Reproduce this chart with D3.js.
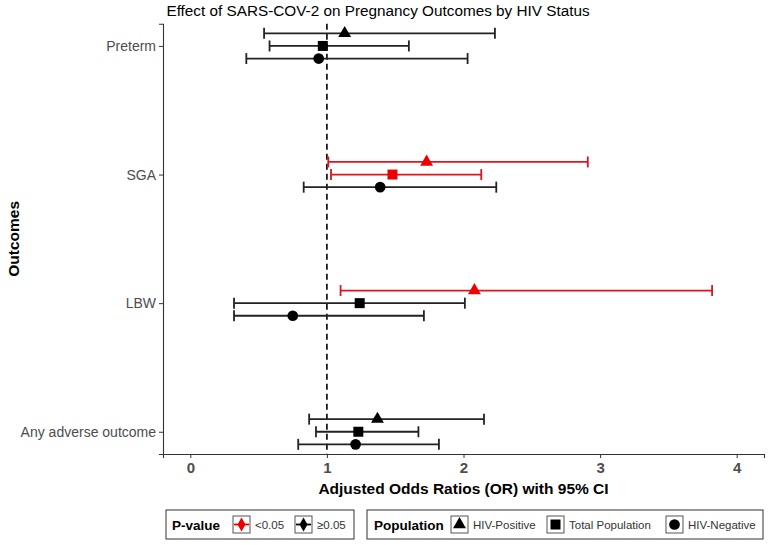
<!DOCTYPE html>
<html>
<head>
<meta charset="utf-8">
<script src="https://cdn.jsdelivr.net/npm/d3@7"></script>
<style>
  body { margin: 0; background: #fff; }
  svg { display: block; font-family: "Liberation Sans", Arial, sans-serif; }
</style>
</head>
<body>
<svg id="chart" width="768" height="545"></svg>
<script>
// outcomes, top to bottom
const outcomes = ["Preterm", "SGA", "LBW", "Any adverse outcome"];
const populations = ["HIV-Positive", "Total Population", "HIV-Negative"];

// adjusted odds ratios and 95% CI, one value per outcome
const hivPosOR = [1.13, 1.73, 2.08, 1.37];
const hivPosLo = [0.54, 1.01, 1.10, 0.87];
const hivPosHi = [2.23, 2.91, 3.82, 2.15];
const hivPosSig = [false, true, true, false];

const totalOR = [0.97, 1.48, 1.24, 1.23];
const totalLo = [0.58, 1.03, 0.32, 0.92];
const totalHi = [1.60, 2.13, 2.01, 1.67];
const totalSig = [false, true, false, false];

const hivNegOR = [0.94, 1.39, 0.75, 1.21];
const hivNegLo = [0.41, 0.83, 0.32, 0.79];
const hivNegHi = [2.03, 2.24, 1.71, 1.82];
const hivNegSig = [false, false, false, false];

const xTicks = [0, 1, 2, 3, 4];

const series = [
    { pop: populations[0], or: hivPosOR, lo: hivPosLo, hi: hivPosHi, sig: hivPosSig },
    { pop: populations[1], or: totalOR, lo: totalLo, hi: totalHi, sig: totalSig },
    { pop: populations[2], or: hivNegOR, lo: hivNegLo, hi: hivNegHi, sig: hivNegSig }
];

const rows = [];
series.forEach((s, si) => {
    outcomes.forEach((o, i) => {
        rows.push({ outcome: o, pop: s.pop, idx: si, or: s.or[i], lo: s.lo[i], hi: s.hi[i], sig: s.sig[i] });
    });
});

const svg = d3.select("#chart");
const pLeft = 163, pRight = 764, pTop = 23.7, pBottom = 454;

const x = d3.scaleLinear().domain([-0.2, 4.2]).range([pLeft, pRight]);
const y = d3.scalePoint().domain(outcomes).range([pTop, pBottom]).padding(0.173);
const dodge = y.step() * 0.098;

const red = "#ee0000";
const lineCol = (d) => d.sig ? "#e0141e" : "#222";
const fillCol = (d) => d.sig ? red : "#000";

const shapes = {
    "HIV-Positive": d3.symbol().type(d3.symbolTriangle).size(72),
    "Total Population": d3.symbol().type(d3.symbolSquare).size(100),
    "HIV-Negative": d3.symbol().type(d3.symbolCircle).size(90)
};

const yPos = (d) => y(d.outcome) + (d.idx - 1) * dodge;

// title
svg.append("text")
    .attr("x", 378).attr("y", 16)
    .attr("text-anchor", "middle")
    .attr("font-size", 15.3)
    .attr("fill", "#000")
    .text("Effect of SARS-COV-2 on Pregnancy Outcomes by HIV Status");

// reference line at OR = 1
svg.append("line")
    .attr("x1", x(1)).attr("x2", x(1))
    .attr("y1", pTop).attr("y2", pBottom)
    .attr("stroke", "#000")
    .attr("stroke-width", 1.6)
    .attr("stroke-dasharray", "6,4");

// error bars
const bars = svg.append("g").selectAll("g").data(rows).enter().append("g");
bars.append("line")
    .attr("x1", (d) => x(d.lo)).attr("x2", (d) => x(d.hi))
    .attr("y1", yPos).attr("y2", yPos)
    .attr("stroke", lineCol).attr("stroke-width", 1.8);
bars.append("line")
    .attr("x1", (d) => x(d.lo)).attr("x2", (d) => x(d.lo))
    .attr("y1", (d) => yPos(d) - 5.5).attr("y2", (d) => yPos(d) + 5.5)
    .attr("stroke", lineCol).attr("stroke-width", 1.8);
bars.append("line")
    .attr("x1", (d) => x(d.hi)).attr("x2", (d) => x(d.hi))
    .attr("y1", (d) => yPos(d) - 5.5).attr("y2", (d) => yPos(d) + 5.5)
    .attr("stroke", lineCol).attr("stroke-width", 1.8);

// points
svg.append("g").selectAll("path").data(rows).enter().append("path")
    .attr("d", (d) => shapes[d.pop]())
    .attr("transform", (d) => "translate(" + x(d.or) + "," + yPos(d) + ")")
    .attr("fill", fillCol);

// axes
const xAxis = svg.append("g")
    .attr("transform", "translate(0," + pBottom + ")")
    .call(d3.axisBottom(x).tickValues(xTicks).tickSize(4).tickPadding(4).tickFormat(d3.format("d")));
xAxis.select(".domain").attr("stroke", "#333").attr("stroke-width", 1.1);
xAxis.selectAll(".tick line").attr("stroke", "#333");
xAxis.selectAll(".tick text").attr("font-size", 15).attr("font-weight", "bold").attr("fill", "#4d4d4d")
    .attr("font-family", "Liberation Sans, Arial, sans-serif");

const yAxis = svg.append("g")
    .attr("transform", "translate(" + pLeft + ",0)")
    .call(d3.axisLeft(y).tickSize(4).tickPadding(3));
yAxis.select(".domain").attr("stroke", "#333").attr("stroke-width", 1.1);
yAxis.selectAll(".tick line").attr("stroke", "#333");
yAxis.selectAll(".tick text").attr("font-size", 14).attr("fill", "#4d4d4d")
    .attr("font-family", "Liberation Sans, Arial, sans-serif");

// axis titles
svg.append("text")
    .attr("x", (pLeft + pRight) / 2).attr("y", 494)
    .attr("text-anchor", "middle")
    .attr("font-size", 15.5).attr("font-weight", "bold")
    .text("Adjusted Odds Ratios (OR) with 95% CI");

svg.append("text")
    .attr("transform", "translate(19," + ((pTop + pBottom) / 2) + ") rotate(-90)")
    .attr("text-anchor", "middle")
    .attr("font-size", 15.5).attr("font-weight", "bold")
    .text("Outcomes");

// legends
const legY = 510, legH = 29, keyS = 17;

function legendBox(x0, w) {
    svg.append("rect")
        .attr("x", x0).attr("y", legY).attr("width", w).attr("height", legH)
        .attr("fill", "#fff").attr("stroke", "#333").attr("stroke-width", 1);
}
function keyBox(kx) {
    svg.append("rect")
        .attr("x", kx).attr("y", legY + (legH - keyS) / 2).attr("width", keyS).attr("height", keyS)
        .attr("fill", "#fff").attr("stroke", "#555").attr("stroke-width", 1);
}
function legText(tx, txt, bold) {
    svg.append("text")
        .attr("x", tx).attr("y", legY + legH / 2 + (bold ? 5 : 4))
        .attr("font-size", bold ? 13.5 : 11.5)
        .attr("font-weight", bold ? "bold" : "normal")
        .attr("fill", bold ? "#000" : "#333")
        .text(txt);
}

// P-value legend
const pLabels = ["<0.05", "\u22650.05"];
const pColors = [red, "#000"];
legendBox(166, 188);
legText(172, "P-value", true);
let kx = 233;
pLabels.forEach((lab, i) => {
    keyBox(kx);
    const cy = legY + legH / 2, cx = kx + keyS / 2;
    svg.append("line").attr("x1", kx + 1).attr("x2", kx + keyS - 1).attr("y1", cy).attr("y2", cy)
        .attr("stroke", pColors[i]).attr("stroke-width", 1.8);
    svg.append("path").attr("d", d3.symbol().type(d3.symbolDiamond).size(55)())
        .attr("transform", "translate(" + cx + "," + cy + ")").attr("fill", pColors[i]);
    legText(kx + keyS + 5, lab, false);
    kx += 62;
});

// Population legend
legendBox(367, 396);
legText(374, "Population", true);
const popKeyX = [451, 547, 666];
populations.forEach((p, i) => {
    keyBox(popKeyX[i]);
    svg.append("path").attr("d", shapes[p]())
        .attr("transform", "translate(" + (popKeyX[i] + keyS / 2) + "," + (legY + legH / 2) + ")")
        .attr("fill", "#000");
    legText(popKeyX[i] + keyS + 5, p, false);
});
</script>
</body>
</html>
